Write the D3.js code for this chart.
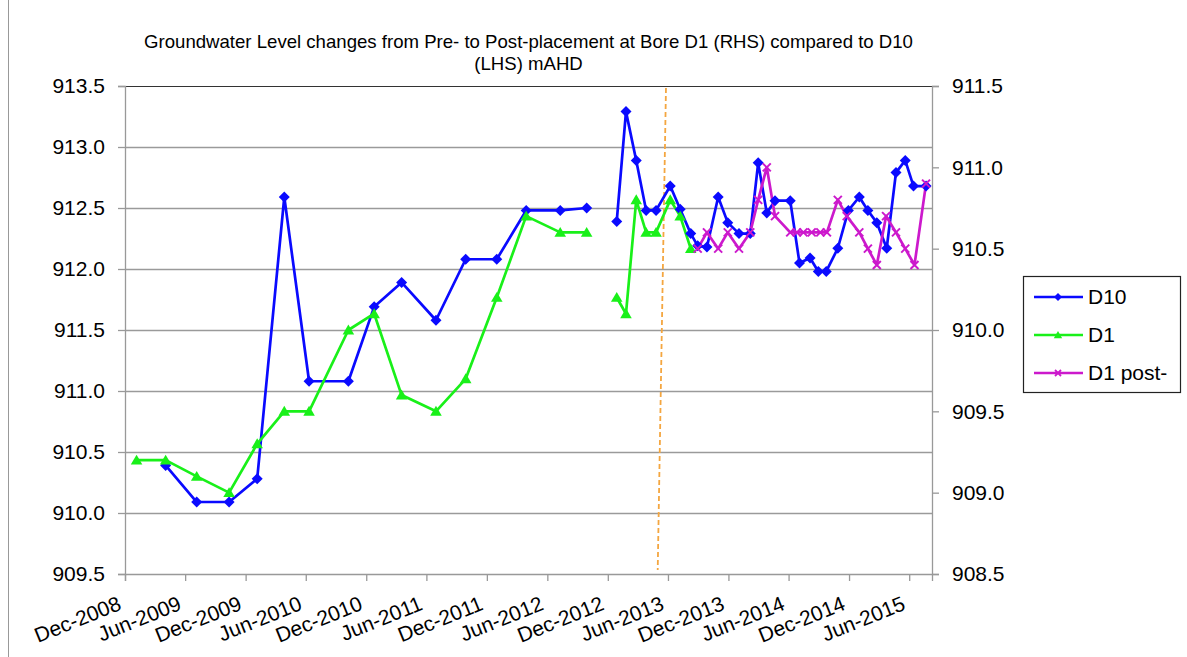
<!DOCTYPE html>
<html><head><meta charset="utf-8">
<script src="https://cdn.jsdelivr.net/npm/d3@7"></script>
<style>
html,body{margin:0;padding:0;background:#fff;}
svg text{font-family:"Liberation Sans",Arial,sans-serif;fill:#000;}
</style></head>
<body><svg id="chart" width="1187" height="657"></svg>
<script>
// ---------- data ----------
const titleLines = ["Groundwater Level changes from Pre- to Post-placement at Bore D1 (RHS) compared to D10", "(LHS) mAHD"];
const seriesNames = ["D10", "D1", "D1 post-"];
const xTickDates = ["2008-12-01","2009-06-01","2009-12-01","2010-06-01","2010-12-01","2011-06-01","2011-12-01","2012-06-01","2012-12-01","2013-06-01","2013-12-01","2014-06-01","2014-12-01","2015-06-01"];
const leftTicks = [909.5, 910.0, 910.5, 911.0, 911.5, 912.0, 912.5, 913.0, 913.5];
const rightTicks = [908.5, 909.0, 909.5, 910.0, 910.5, 911.0, 911.5];

// D10 (left axis); null = gap in record
const d10Dates = ["2009-04-03","2009-07-06","2009-10-12","2010-01-05","2010-03-28","2010-06-11","2010-10-08","2010-12-25","2011-03-18","2011-06-30","2011-09-28","2011-12-31","2012-03-29","2012-07-10","2012-09-28",null,
  "2012-12-28","2013-01-25","2013-02-25","2013-03-27","2013-04-26","2013-06-08","2013-07-08","2013-08-09","2013-08-30","2013-09-27","2013-10-31","2013-11-29","2014-01-02","2014-02-05","2014-03-01","2014-03-27","2014-04-21","2014-06-06","2014-07-04","2014-08-05","2014-08-30","2014-09-23","2014-10-28","2014-11-29","2015-01-01","2015-01-27","2015-02-23","2015-03-25","2015-04-22","2015-05-20","2015-06-14","2015-07-22"];
const d10Values = [910.39,910.09,910.09,910.28,912.59,911.08,911.08,911.69,911.89,911.58,912.08,912.08,912.48,912.48,912.50,null,
  912.39,913.29,912.89,912.48,912.48,912.68,912.49,912.29,912.19,912.18,912.59,912.38,912.29,912.29,912.87,912.46,912.56,912.56,912.05,912.09,911.98,911.98,912.17,912.48,912.59,912.48,912.38,912.17,912.79,912.89,912.68,912.68];

// D1 pre-placement (right axis)
const d1Dates = ["2009-01-05","2009-04-03","2009-07-06","2009-10-12","2010-01-05","2010-03-28","2010-06-11","2010-10-08","2010-12-25","2011-03-18","2011-06-30","2011-09-28","2011-12-31","2012-03-29","2012-07-10","2012-09-28",null,
  "2012-12-28","2013-01-25","2013-02-25","2013-03-27","2013-04-26","2013-06-08","2013-07-08","2013-08-09"];
const d1Values = [909.2,909.2,909.1,909.0,909.3,909.5,909.5,910.0,910.1,909.6,909.5,909.7,910.2,910.7,910.6,910.6,null,
  910.2,910.1,910.8,910.6,910.6,910.8,910.7,910.5];

// D1 post-placement (right axis)
const d1PostDates = ["2013-08-30","2013-09-27","2013-10-31","2013-11-29","2014-01-02","2014-02-05","2014-03-01","2014-03-27","2014-04-21","2014-06-06","2014-06-26","2014-07-16","2014-08-10","2014-09-05","2014-09-25","2014-10-28","2014-11-24","2015-01-01","2015-01-27","2015-02-23","2015-03-23","2015-04-22","2015-05-20","2015-06-17","2015-07-22"];
const d1PostValues = [910.5,910.6,910.5,910.6,910.5,910.6,910.8,911.0,910.7,910.6,910.6,910.6,910.6,910.6,910.6,910.8,910.7,910.6,910.5,910.4,910.7,910.6,910.5,910.4,910.9];

// placement marker (drawn slightly slanted in the original)
const placementDates = ["2013-05-26","2013-05-01"];
const xDomain = ["2008-12-01","2015-08-09"];

// ---------- layout ----------
const P = {left:125, right:932, top:86, bottom:574};
const parse = d3.utcParse("%Y-%m-%d");
const fmt = d3.utcFormat("%b-%Y");
const svg = d3.select("#chart");

const x = d3.scaleUtc().domain(xDomain.map(parse)).range([P.left, P.right]);
const yL = d3.scaleLinear().domain([909.5, 913.5]).range([P.bottom, P.top]);
const yR = d3.scaleLinear().domain([908.5, 911.5]).range([P.bottom, P.top]);

const colors = {D10:"#0a0aff", D1:"#19f019", post:"#cc19cc"};

// outer frame line (left edge visible in original)
svg.append("line").attr("x1",8.5).attr("x2",8.5).attr("y1",0).attr("y2",657).attr("stroke","#999").attr("stroke-width",1);

// gridlines
svg.append("g").selectAll("line").data(leftTicks.slice(1, -1)).join("line")
  .attr("x1",P.left).attr("x2",P.right)
  .attr("y1",d=>Math.round(yL(d))+0.5).attr("y2",d=>Math.round(yL(d))+0.5)
  .attr("stroke","#9a9a9a").attr("stroke-width",1.3);

// top border
svg.append("line").attr("x1",P.left).attr("x2",P.right).attr("y1",P.top+0.5).attr("y2",P.top+0.5).attr("stroke","#333").attr("stroke-width",1.2);

// left axis
const gL = svg.append("g").attr("transform",`translate(${P.left},0)`)
  .call(d3.axisLeft(yL).tickValues(leftTicks).tickFormat(d3.format(".1f")).tickSizeOuter(0).tickSize(7).tickPadding(13));
// right axis
const gR = svg.append("g").attr("transform",`translate(${P.right},0)`)
  .call(d3.axisRight(yR).tickValues(rightTicks).tickFormat(d3.format(".1f")).tickSizeOuter(0).tickSize(7).tickPadding(13));
// bottom axis
const gB = svg.append("g").attr("transform",`translate(0,${P.bottom})`)
  .call(d3.axisBottom(x).tickValues(xTickDates.map(parse)).tickFormat(fmt).tickSizeOuter(0).tickSize(7));

[gL,gR,gB].forEach(g=>{
  g.select(".domain").attr("stroke","#999").attr("stroke-width",1.3);
  g.selectAll(".tick line").attr("stroke","#999").attr("stroke-width",1.3);
  g.selectAll("text").style("font-size","21px").attr("fill","#000");
});
gB.selectAll(".tick text")
  .attr("text-anchor","end")
  .attr("dy","0")
  .attr("y",0)
  .attr("transform","translate(-3,35) rotate(-22)");

// title
svg.append("g").selectAll("text").data(titleLines).join("text")
  .attr("x",(P.left+P.right)/2).attr("y",(d,i)=>48+i*22)
  .attr("text-anchor","middle").style("font-size","18.6px").text(d=>d);

// placement line
const pd = placementDates.map(parse);
svg.append("line")
  .attr("x1",x(pd[0])).attr("y1",P.top+2)
  .attr("x2",x(pd[1])).attr("y2",P.bottom-4)
  .attr("stroke","#f4a640").attr("stroke-width",1.8).attr("stroke-dasharray","5,3");

// series
function mk(dates, values){ return dates.map((d,i)=>({d: d?parse(d):null, v: values[i]})); }
const sD10 = mk(d10Dates, d10Values);
const sD1 = mk(d1Dates, d1Values);
const sPost = mk(d1PostDates, d1PostValues);

function drawLine(data, ys, color){
  const line = d3.line().defined(p=>p.v!=null).x(p=>x(p.d)).y(p=>ys(p.v));
  svg.append("path").datum(data).attr("d",line).attr("fill","none")
    .attr("stroke",color).attr("stroke-width",2.7).attr("stroke-linejoin","round");
}
drawLine(sD10, yL, colors.D10);
drawLine(sD1, yR, colors.D1);
drawLine(sPost, yR, colors.post);

function diamondPath(s){ return `M0,${-s}L${s},0L0,${s}L${-s},0Z`; }
function triPath(s){ return `M0,${-s}L${s*1.05},${s*0.8}L${-s*1.05},${s*0.8}Z`; }
function xPath(s){ return `M${-s},${-s}L${s},${s}M${-s},${s}L${s},${-s}`; }

svg.append("g").selectAll("path").data(sD10.filter(p=>p.v!=null)).join("path")
  .attr("transform",p=>`translate(${x(p.d)},${yL(p.v)})`).attr("d",diamondPath(5.5)).attr("fill",colors.D10);
svg.append("g").selectAll("path").data(sD1.filter(p=>p.v!=null)).join("path")
  .attr("transform",p=>`translate(${x(p.d)},${yR(p.v)})`).attr("d",triPath(5.5)).attr("fill",colors.D1);
svg.append("g").selectAll("path").data(sPost.filter(p=>p.v!=null)).join("path")
  .attr("transform",p=>`translate(${x(p.d)},${yR(p.v)})`).attr("d",xPath(4)).attr("stroke",colors.post).attr("stroke-width",2).attr("fill","none");

// legend
const lg = svg.append("g");
lg.append("rect").attr("x",1023.5).attr("y",276.5).attr("width",157).attr("height",116)
  .attr("fill","#fff").attr("stroke","#222").attr("stroke-width",1.2);
const items = [
  {name:seriesNames[0], color:colors.D10, m:"d"},
  {name:seriesNames[1], color:colors.D1, m:"t"},
  {name:seriesNames[2], color:colors.post, m:"x"}
];
items.forEach((it,i)=>{
  const yy = 297 + i*38;
  const g = lg.append("g").attr("transform",`translate(0,${yy})`);
  g.append("line").attr("x1",1034).attr("x2",1083).attr("y1",0).attr("y2",0).attr("stroke",it.color).attr("stroke-width",2.4);
  if(it.m==="d") g.append("path").attr("transform","translate(1058,0)").attr("d",diamondPath(4)).attr("fill",it.color);
  if(it.m==="t") g.append("path").attr("transform","translate(1058,0)").attr("d",triPath(4)).attr("fill",it.color);
  if(it.m==="x") g.append("path").attr("transform","translate(1058,0)").attr("d",xPath(3)).attr("stroke",it.color).attr("stroke-width",1.8);
  g.append("text").attr("x",1088).attr("y",0).attr("dy","0.35em").style("font-size","21px").text(it.name);
});
</script></body></html>
